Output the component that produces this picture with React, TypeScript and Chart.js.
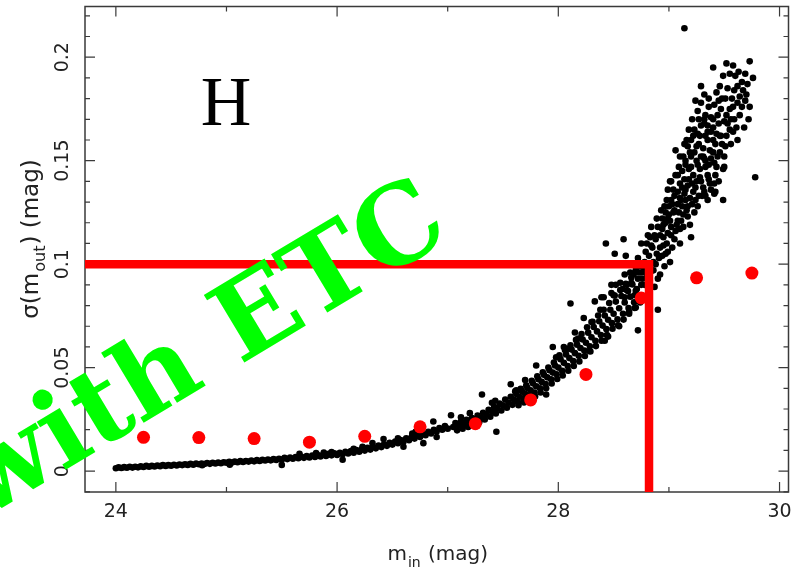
import React, { useEffect, useRef } from 'react';
import { Chart, registerables } from 'chart.js';

Chart.register(...registerables);

// Axis ranges
const xMin = 23.721;
const xMax = 30.081;
const yMin = -0.0101;
const yMax = 0.2245;

const xTickLabels = ['24', '26', '28', '30'];
const yTickLabels = ['0', '0.05', '0.1', '0.15', '0.2'];

// ETC prediction (red points)
const etcMag = [24.25, 24.75, 25.25, 25.75, 26.25, 26.75, 27.25, 27.75, 28.25, 28.75, 29.25, 29.75];
const etcSigma = [0.0163, 0.0162, 0.0157, 0.0140, 0.0168, 0.0214, 0.0229, 0.0344, 0.0467, 0.0837, 0.0934, 0.0957];

// Limit lines
const limitMag = 28.82;
const limitSigma = 0.1;

// Simulated stars: main band (faint end)
const bandLowA: [number, number][] = [
  [24.00, 0.0014], [24.05, 0.0015], [24.10, 0.0016], [24.15, 0.0017], [24.20, 0.0018], [24.25, 0.0020], [24.30, 0.0021], [24.35, 0.0022],
  [24.40, 0.0024], [24.45, 0.0025], [24.50, 0.0026], [24.55, 0.0027], [24.60, 0.0029], [24.65, 0.0030], [24.70, 0.0031], [24.75, 0.0033],
  [24.80, 0.0034], [24.85, 0.0035], [24.90, 0.0037], [24.95, 0.0038], [25.00, 0.0040], [25.05, 0.0041], [25.10, 0.0043], [25.15, 0.0044],
  [25.20, 0.0046], [25.25, 0.0047], [25.30, 0.0049], [25.35, 0.0051], [25.40, 0.0052], [25.45, 0.0054], [25.50, 0.0056], [25.55, 0.0058],
  [25.60, 0.0060], [25.65, 0.0062], [25.70, 0.0064], [25.75, 0.0066], [25.80, 0.0068], [25.85, 0.0071], [25.90, 0.0073], [25.95, 0.0076],
  [26.00, 0.0078], [26.05, 0.0081], [26.10, 0.0085], [26.15, 0.0089], [26.20, 0.0094], [26.25, 0.0099], [26.30, 0.0104], [26.35, 0.0110],
  [26.40, 0.0116], [26.45, 0.0122], [26.50, 0.0128], [26.55, 0.0135], [26.60, 0.0142], [26.65, 0.0149], [26.70, 0.0157], [26.75, 0.0165],
  [26.80, 0.0173], [26.85, 0.0182], [26.90, 0.0191], [26.95, 0.0200], [27.00, 0.0205],
];

const bandLowB: [number, number][] = [
  [24.025, 0.0018], [24.075, 0.0019], [24.125, 0.0021], [24.175, 0.0021], [24.225, 0.0023], [24.275, 0.0025], [24.325, 0.0025], [24.375, 0.0027],
  [24.425, 0.0029], [24.475, 0.0029], [24.525, 0.0031], [24.575, 0.0032], [24.625, 0.0033], [24.675, 0.0035], [24.725, 0.0036], [24.775, 0.0037],
  [24.825, 0.0039], [24.875, 0.0040], [24.925, 0.0041], [24.975, 0.0043], [25.025, 0.0045], [25.075, 0.0046], [25.125, 0.0048], [25.175, 0.0049],
  [25.225, 0.0051], [25.275, 0.0053], [25.325, 0.0054], [25.375, 0.0056], [25.425, 0.0058], [25.475, 0.0060], [25.525, 0.0064], [25.575, 0.0066],
  [25.625, 0.0068], [25.675, 0.0070], [25.725, 0.0073], [25.775, 0.0075], [25.825, 0.0078], [25.875, 0.0080], [25.925, 0.0083], [25.975, 0.0086],
  [26.025, 0.0089], [26.075, 0.0093], [26.125, 0.0097], [26.175, 0.0102], [26.225, 0.0107], [26.275, 0.0112], [26.325, 0.0118], [26.375, 0.0124],
  [26.425, 0.0130], [26.475, 0.0137], [26.525, 0.0143], [26.575, 0.0150], [26.625, 0.0158], [26.675, 0.0166], [26.725, 0.0173], [26.775, 0.0182],
  [26.825, 0.0190], [26.875, 0.0199], [26.925, 0.0208], [26.975, 0.0218],
];

// Main band (bright end): centre, upper and lower rows
const bandMidC: [number, number][] = [
  [27.05, 0.0213], [27.10, 0.0221], [27.15, 0.0229], [27.20, 0.0237], [27.25, 0.0246], [27.30, 0.0259], [27.35, 0.0273], [27.40, 0.0288],
  [27.45, 0.0303], [27.50, 0.0318], [27.55, 0.0331], [27.60, 0.0345], [27.65, 0.0359], [27.70, 0.0374], [27.75, 0.0390], [27.80, 0.0410],
  [27.85, 0.0431], [27.90, 0.0453], [27.95, 0.0476], [28.00, 0.0500], [28.05, 0.0523], [28.10, 0.0546], [28.15, 0.0570], [28.20, 0.0595],
  [28.25, 0.0620], [28.30, 0.0647], [28.35, 0.0675], [28.40, 0.0703], [28.45, 0.0731], [28.50, 0.0760], [28.55, 0.0787], [28.60, 0.0815],
  [28.65, 0.0843], [28.70, 0.0871], [28.75, 0.0900], [28.80, 0.0935],
];

const bandMidU: [number, number][] = [
  [27.07, 0.0232], [27.12, 0.0240], [27.17, 0.0248], [27.22, 0.0256], [27.27, 0.0268], [27.32, 0.0282], [27.37, 0.0296], [27.42, 0.0311],
  [27.47, 0.0326], [27.52, 0.0346], [27.57, 0.0359], [27.62, 0.0373], [27.67, 0.0387], [27.72, 0.0402], [27.77, 0.0424], [27.82, 0.0444],
  [27.87, 0.0465], [27.92, 0.0487], [27.97, 0.0510], [28.02, 0.0541], [28.07, 0.0564], [28.12, 0.0587], [28.17, 0.0611], [28.22, 0.0636],
  [28.27, 0.0669], [28.32, 0.0696], [28.37, 0.0724], [28.42, 0.0752], [28.47, 0.0780], [28.52, 0.0819], [28.57, 0.0846], [28.62, 0.0874],
  [28.67, 0.0902], [28.72, 0.0930], [28.77, 0.0962],
];

const bandMidL: [number, number][] = [
  [27.085, 0.0197], [27.135, 0.0205], [27.185, 0.0213], [27.235, 0.0221], [27.285, 0.0236], [27.335, 0.0249], [27.385, 0.0263], [27.435, 0.0278],
  [27.485, 0.0293], [27.535, 0.0306], [27.585, 0.0320], [27.635, 0.0334], [27.685, 0.0349], [27.735, 0.0364], [27.785, 0.0379], [27.835, 0.0400],
  [27.885, 0.0421], [27.935, 0.0444], [27.985, 0.0468], [28.035, 0.0485], [28.085, 0.0508], [28.135, 0.0532], [28.185, 0.0557], [28.235, 0.0583],
  [28.285, 0.0603], [28.335, 0.0630], [28.385, 0.0658], [28.435, 0.0686], [28.485, 0.0715], [28.535, 0.0733], [28.585, 0.0760], [28.635, 0.0788],
  [28.685, 0.0816], [28.735, 0.0845],
];

const bandMidU2: [number, number][] = [
  [27.61, 0.0385], [27.66, 0.0398], [27.71, 0.0414], [27.76, 0.0436], [27.81, 0.0458], [27.86, 0.0478], [27.91, 0.0500], [27.96, 0.0525],
  [28.01, 0.0560], [28.06, 0.0585], [28.11, 0.0608], [28.16, 0.0634], [28.21, 0.0662], [28.26, 0.0695], [28.31, 0.0722], [28.36, 0.0752],
  [28.41, 0.0780], [28.46, 0.0812], [28.51, 0.0848], [28.56, 0.0875], [28.61, 0.0905], [28.66, 0.0935], [28.71, 0.0962], [28.76, 0.0990],
];

const bandMidL2: [number, number][] = [
  [27.64, 0.0318], [27.69, 0.0332], [27.74, 0.0346], [27.79, 0.0360], [27.84, 0.0380], [27.89, 0.0400], [27.94, 0.0423], [27.99, 0.0445],
  [28.04, 0.0462], [28.09, 0.0485], [28.14, 0.0508], [28.19, 0.0530], [28.24, 0.0556], [28.29, 0.0578], [28.34, 0.0604], [28.39, 0.0630],
  [28.44, 0.0658], [28.49, 0.0688], [28.54, 0.0705], [28.59, 0.0732], [28.64, 0.0760], [28.69, 0.0788], [28.74, 0.0815],
];

// Scattered stars around the band
const scatterMid: [number, number][] = [
  [24.78, 0.0028], [25.03, 0.0031], [25.50, 0.0030], [25.66, 0.0083], [25.81, 0.0087], [25.88, 0.0090], [26.05, 0.0055], [26.23, 0.0117],
  [26.32, 0.0135], [26.42, 0.0155], [26.55, 0.0158], [26.68, 0.0182], [26.71, 0.0190], [26.78, 0.0135], [26.87, 0.0240], [27.03, 0.0270],
  [27.31, 0.0370], [27.43, 0.0340], [27.44, 0.0190], [27.57, 0.0420], [27.80, 0.0510], [27.89, 0.0370], [27.95, 0.0600], [28.05, 0.0600],
  [28.11, 0.0810], [28.23, 0.0740], [28.33, 0.0820], [28.41, 0.0840], [28.42, 0.0630], [28.72, 0.0680], [28.90, 0.0780], [26.15, 0.0108],
  [25.95, 0.0092], [26.60, 0.0118], [26.90, 0.0165], [28.15, 0.0670], [28.30, 0.0720], [28.38, 0.0780], [28.48, 0.0860], [28.55, 0.0700],
  [28.62, 0.0900], [28.68, 0.0950], [28.45, 0.0650], [28.52, 0.0900], [28.58, 0.0880], [28.64, 0.0770], [28.70, 0.0790], [28.28, 0.0580],
  [28.18, 0.0640], [27.98, 0.0550], [28.08, 0.0590], [27.70, 0.0440], [27.62, 0.0390], [27.40, 0.0330], [27.20, 0.0280], [27.12, 0.0260],
];

// Bright-end cloud
const cloudHigh: [number, number][] = [
  [29.14, 0.214], [29.40, 0.195], [29.73, 0.198], [29.55, 0.192], [29.60, 0.191], [29.76, 0.190], [29.46, 0.186], [29.53, 0.185],
  [29.59, 0.184], [29.67, 0.184], [29.24, 0.179], [29.29, 0.178], [29.41, 0.177], [29.62, 0.178], [29.69, 0.179], [29.73, 0.176],
  [29.47, 0.175], [29.55, 0.175], [29.33, 0.172], [29.44, 0.172], [29.32, 0.170], [29.38, 0.171], [29.50, 0.169], [29.59, 0.170],
  [29.68, 0.166], [29.23, 0.165], [29.29, 0.167], [29.35, 0.167], [29.55, 0.165], [29.26, 0.163], [29.33, 0.162], [29.47, 0.162],
  [29.62, 0.160], [29.17, 0.157], [29.31, 0.156], [29.37, 0.155], [29.51, 0.157], [29.06, 0.155], [29.23, 0.154], [29.10, 0.152],
  [29.20, 0.152], [29.31, 0.152], [29.38, 0.151], [29.44, 0.152], [29.50, 0.152], [29.15, 0.148], [29.26, 0.148], [29.33, 0.147],
  [29.41, 0.149], [29.49, 0.146], [29.78, 0.142], [29.08, 0.143], [29.14, 0.141], [29.22, 0.143], [29.28, 0.142], [29.35, 0.143],
  [29.42, 0.143], [29.02, 0.140], [29.10, 0.139], [29.17, 0.138], [29.24, 0.137], [29.31, 0.137], [29.37, 0.139], [28.99, 0.136],
  [29.08, 0.135], [29.14, 0.134], [29.22, 0.135], [29.33, 0.133], [29.41, 0.134], [29.02, 0.131], [29.11, 0.131], [29.49, 0.131],
  [29.32, 0.168], [29.40, 0.166], [29.46, 0.162], [29.28, 0.162], [29.40, 0.154], [29.32, 0.151], [29.50, 0.147], [29.06, 0.143],
  [29.01, 0.140], [29.29, 0.140], [29.41, 0.139], [29.04, 0.136], [29.15, 0.136], [29.32, 0.135], [29.42, 0.135], [29.10, 0.132],
  [29.35, 0.131], [28.96, 0.128], [29.08, 0.129], [29.17, 0.128], [29.26, 0.128], [28.93, 0.126], [29.04, 0.125], [29.13, 0.124],
  [29.17, 0.123], [28.89, 0.122], [28.99, 0.122], [29.08, 0.121], [28.84, 0.118], [28.95, 0.119], [29.02, 0.118], [29.10, 0.117],
  [29.20, 0.113], [28.81, 0.114], [28.92, 0.114], [28.99, 0.115], [29.05, 0.112], [28.59, 0.112], [28.43, 0.110], [28.75, 0.110],
  [28.84, 0.109], [28.95, 0.109], [28.79, 0.106], [28.89, 0.105], [28.97, 0.105], [28.51, 0.105], [28.61, 0.104], [28.72, 0.103],
  [29.01, 0.101], [28.78, 0.101], [28.69, 0.100], [28.65, 0.096], [28.74, 0.096], [28.60, 0.095], [28.92, 0.095], [28.48, 0.090],
  [28.56, 0.091], [28.66, 0.091], [28.87, 0.089], [28.39, 0.084], [28.50, 0.085], [28.60, 0.084], [28.69, 0.085],
  [29.12, 0.145], [29.18, 0.146], [29.25, 0.150], [29.20, 0.160], [29.27, 0.158], [29.35, 0.160], [29.42, 0.158], [29.38, 0.164],
  [29.45, 0.168], [29.52, 0.172], [29.58, 0.176], [29.64, 0.172], [29.66, 0.188], [29.70, 0.182], [29.48, 0.180], [29.36, 0.176],
  [29.27, 0.170], [29.20, 0.147], [29.12, 0.137], [29.05, 0.133], [29.00, 0.128], [29.19, 0.132], [29.27, 0.133], [29.23, 0.125],
  [29.13, 0.118], [29.06, 0.116], [28.98, 0.110], [28.87, 0.114], [28.94, 0.104], [28.86, 0.097], [28.82, 0.093], [28.78, 0.090],
  [28.71, 0.088], [28.63, 0.087], [29.57, 0.180], [29.45, 0.179], [29.62, 0.186], [29.52, 0.162], [29.43, 0.147], [29.36, 0.148],
  [28.70, 0.097], [28.74, 0.099], [28.78, 0.097], [28.80, 0.100], [28.82, 0.104], [28.76, 0.093], [28.83, 0.096], [28.86, 0.101],
  [28.85, 0.108], [28.88, 0.112], [28.92, 0.108], [28.95, 0.113], [28.90, 0.118], [28.97, 0.120], [29.00, 0.124], [28.94, 0.122],
  [29.03, 0.129], [28.98, 0.131],
  [28.88, 0.100], [28.91, 0.103], [28.96, 0.099], [28.99, 0.106], [29.03, 0.108], [29.02, 0.114], [29.07, 0.119], [29.09, 0.125],
  [29.12, 0.128], [29.15, 0.131], [29.05, 0.126], [29.11, 0.121], [29.16, 0.126], [29.19, 0.119], [29.21, 0.129], [29.24, 0.131],
  [29.25, 0.140], [29.21, 0.139], [29.18, 0.141], [29.15, 0.150], [29.19, 0.154], [29.13, 0.152], [29.09, 0.147], [29.16, 0.160],
  [29.22, 0.162], [29.25, 0.157], [29.29, 0.152], [29.33, 0.150], [29.28, 0.146], [29.30, 0.133], [29.38, 0.136], [29.36, 0.141],
  [29.45, 0.140], [29.46, 0.154], [29.43, 0.163], [29.40, 0.160], [29.35, 0.164], [29.40, 0.170], [29.36, 0.180], [29.32, 0.182],
  [29.43, 0.183], [29.49, 0.191], [29.51, 0.180], [29.56, 0.170], [29.61, 0.166], [29.64, 0.181], [29.71, 0.187], [29.72, 0.170],
  [29.66, 0.176], [29.53, 0.168], [29.48, 0.158], [29.56, 0.158], [29.58, 0.164], [29.63, 0.193], [29.69, 0.192], [29.58, 0.196],
  [29.52, 0.197], [29.29, 0.186], [29.26, 0.174], [29.21, 0.170], [29.18, 0.165], [29.14, 0.158], [29.01, 0.121], [28.94, 0.117],
  [28.97, 0.125], [29.10, 0.110], [28.83, 0.113], [28.80, 0.110], [28.90, 0.093],
];

const FONT = '"DejaVu Sans", sans-serif';
const INK = '#222';

const decorPlugin = {
  id: 'decor',
  beforeDatasetsDraw(chart: any) {
    const { ctx, chartArea: a, scales } = chart;
    ctx.save();
    ctx.strokeStyle = '#3a3a3a';
    ctx.lineWidth = 1.5;
    ctx.strokeRect(a.left, a.top, a.right - a.left, a.bottom - a.top);
    ctx.lineWidth = 1.2;
    const xs = scales.x;
    xs.ticks.forEach((t: any) => {
      const px = xs.getPixelForValue(t.value);
      const len = t.label ? 10 : 5;
      ctx.beginPath();
      ctx.moveTo(px, a.bottom);
      ctx.lineTo(px, a.bottom - len);
      ctx.moveTo(px, a.top);
      ctx.lineTo(px, a.top + len);
      ctx.stroke();
    });
    const ys = scales.y;
    ys.ticks.forEach((t: any) => {
      const py = ys.getPixelForValue(t.value);
      const len = t.label ? 10 : 5;
      ctx.beginPath();
      ctx.moveTo(a.left, py);
      ctx.lineTo(a.left + len, py);
      ctx.moveTo(a.right, py);
      ctx.lineTo(a.right - len, py);
      ctx.stroke();
    });
    ctx.restore();
  },
  afterDraw(chart: any) {
    const { ctx, chartArea: a } = chart;
    ctx.save();
    ctx.fillStyle = INK;
    ctx.textBaseline = 'alphabetic';
    ctx.textAlign = 'left';

    // x title: m_in (mag)
    const xMain = '20px ' + FONT;
    const xSub = '14px ' + FONT;
    ctx.font = xMain;
    const wM = ctx.measureText('m').width;
    const wRest = ctx.measureText(' (mag)').width;
    ctx.font = xSub;
    const wIn = ctx.measureText('in').width;
    const x0 = (a.left + a.right) / 2 - (wM + wIn + wRest) / 2;
    ctx.font = xMain;
    ctx.fillText('m', x0, 560);
    ctx.font = xSub;
    ctx.fillText('in', x0 + wM + 1, 567);
    ctx.font = xMain;
    ctx.fillText(' (mag)', x0 + wM + wIn + 2, 560);

    // y title: σ(m_out) (mag)
    ctx.save();
    ctx.translate(38, 240);
    ctx.rotate(-Math.PI / 2);
    const yMain = '23px ' + FONT;
    const ySub = '16px ' + FONT;
    ctx.font = yMain;
    const w1 = ctx.measureText('σ(m').width;
    const w3 = ctx.measureText(') (mag)').width;
    ctx.font = ySub;
    const w2 = ctx.measureText('out').width;
    const s0 = -(w1 + w2 + w3) / 2;
    ctx.font = yMain;
    ctx.fillText('σ(m', s0, 0);
    ctx.font = ySub;
    ctx.fillText('out', s0 + w1 + 1, 7);
    ctx.font = yMain;
    ctx.fillText(') (mag)', s0 + w1 + w2 + 2, 0);
    ctx.restore();

    // Band label
    ctx.fillStyle = '#000';
    ctx.font = '70px "Liberation Serif", serif';
    ctx.textAlign = 'center';
    ctx.fillText('H', 226, 125);

    // Watermark
    ctx.save();
    ctx.font = 'bold 108px "DejaVu Serif", serif';
    ctx.fillStyle = '#00ff00';
    ctx.textAlign = 'left';
    ctx.translate(240, 365);
    ctx.rotate(-31 * Math.PI / 180);
    const wWith = ctx.measureText('with ').width;
    ctx.fillText('with ETC', -wWith, 0);
    ctx.restore();

    ctx.restore();
  },
};

export default function App() {
  const ref = useRef<HTMLCanvasElement>(null);
  useEffect(() => {
    const blackPts = [...bandLowA, ...bandLowB, ...bandMidC, ...bandMidU, ...bandMidL, ...bandMidU2, ...bandMidL2, ...scatterMid, ...cloudHigh]
      .map(([x, y]) => ({ x, y }));
    const redPts = etcMag.map((x, i) => ({ x, y: etcSigma[i] }));
    const limitPts = [
      { x: xMin, y: limitSigma },
      { x: limitMag, y: limitSigma },
      { x: limitMag, y: yMin },
    ];
    const chart = new Chart(ref.current as HTMLCanvasElement, {
      type: 'scatter',
      data: {
        datasets: [
          {
            type: 'line',
            data: limitPts,
            borderColor: '#ff0000',
            borderWidth: 8.5,
            pointRadius: 0,
            showLine: true,
            fill: false,
            tension: 0,
            borderJoinStyle: 'miter',
            borderCapStyle: 'butt',
          } as any,
          {
            data: redPts,
            pointRadius: 6.5,
            backgroundColor: '#ff0000',
            borderWidth: 0,
          },
          {
            data: blackPts,
            pointRadius: 3.3,
            backgroundColor: '#000000',
            borderWidth: 0,
          },
        ],
      },
      options: {
        responsive: false,
        devicePixelRatio: 1,
        animation: false,
        events: [],
        layout: { padding: { top: 3, right: 5, left: 0, bottom: 0 } },
        plugins: {
          legend: { display: false },
          tooltip: { enabled: false },
        },
        scales: {
          x: {
            type: 'linear',
            min: xMin,
            max: xMax,
            grid: { display: false, drawTicks: false },
            border: { display: false },
            afterFit: (s: any) => { s.height = 79; s.paddingLeft = 0; s.paddingRight = 0; },
            ticks: {
              stepSize: 1,
              includeBounds: false,
              autoSkip: false,
              maxRotation: 0,
              minRotation: 0,
              padding: 9,
              color: INK,
              font: { family: FONT, size: 19 },
              callback: (v: any) => {
                const s = String(Math.round(Number(v) * 1000) / 1000);
                return xTickLabels.includes(s) ? s : '';
              },
            },
          },
          y: {
            type: 'linear',
            min: yMin,
            max: yMax,
            grid: { display: false, drawTicks: false },
            border: { display: false },
            afterFit: (s: any) => { s.width = 85; s.paddingTop = 0; s.paddingBottom = 0; },
            ticks: {
              stepSize: 0.01,
              includeBounds: false,
              autoSkip: false,
              minRotation: 90,
              maxRotation: 90,
              crossAlign: 'center',
              padding: 1,
              color: INK,
              font: { family: FONT, size: 19 },
              callback: (v: any) => {
                const s = String(Math.round(Number(v) * 100) / 100);
                return yTickLabels.includes(s) ? s : '';
              },
            },
          },
        },
      } as any,
      plugins: [decorPlugin],
    });
    return () => chart.destroy();
  }, []);
  return (
    <div style={{ position: 'fixed', left: 0, top: 0, width: 795, height: 571, background: '#ffffff' }}>
      <canvas ref={ref} width={795} height={571} style={{ display: 'block', width: 795, height: 571 }} />
    </div>
  );
}
